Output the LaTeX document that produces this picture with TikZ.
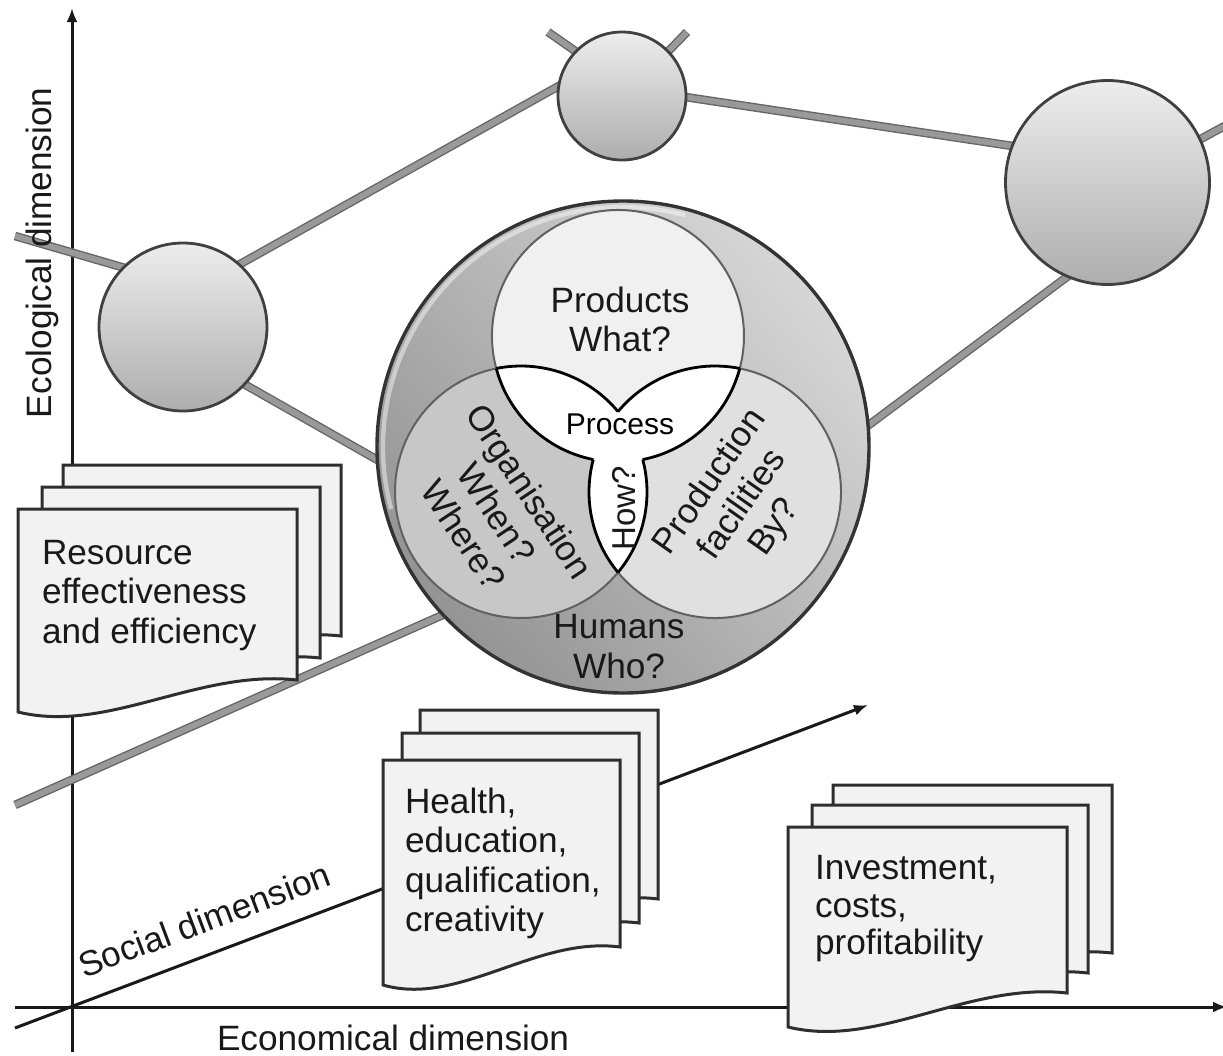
\documentclass[tikz,border=0pt]{standalone}
\usepackage{fontspec}
\setmainfont{Liberation Sans}
\usetikzlibrary{arrows.meta,backgrounds}
\newcommand{\docsheet}[4]{%
  \filldraw[sheet,shift={(#1)}] (0,0) -- (#2,0) -- (#2,#3)
    .. controls ({0.645*#2},{#3-11}) and ({0.32*#2},{#4+22}) .. (0,#4) -- cycle;}
\begin{document}
\begin{tikzpicture}[x=0.5pt,y=-0.5pt,
  every node/.style={inner sep=0pt, outer sep=0pt},
  txt/.style={font=\fontsize{17.6}{19.75}\selectfont, text=black!90},
  axisline/.style={draw=black!90, line width=1.5pt},
  arrowtip/.style={-{Latex[length=7pt,width=5.5pt]}},
  link/.style={draw=black!60, double=black!40, double distance=2.9pt, line width=0.7pt},
  into/.style={shorten <=-3pt, shorten >=-3pt},
  intoend/.style={shorten >=-3pt},
  intostart/.style={shorten <=-3pt},
  sphere/.style={circle, draw=black!75, line width=1.4pt, top color=black!7, bottom color=black!32},
  hub/.style={circle, draw=black!80, line width=1.7pt, top color=black!16, bottom color=black!42, shading angle=-50, minimum size=246pt},
  sheet/.style={fill=black!5, draw=black!82, line width=1.5pt},
  innerline/.style={draw=black!62, line width=1pt},
  boundary/.style={draw=black, line width=1.4pt},
]
\useasboundingbox (0,0) rectangle (1223,1056);

% coordinates of free ends
\coordinate (ytop) at (72,8);
\coordinate (ybot) at (72,1052);
\coordinate (xl) at (15,1007);
\coordinate (xr) at (1227,1007);
\coordinate (sl) at (15,1028);
\coordinate (sr) at (868,705);
\coordinate (e1) at (15,236);
\coordinate (e2) at (1232,122);
\coordinate (e3) at (15,805);
\coordinate (a1) at (548,32);
\coordinate (a2) at (687,32);

% spheres and hub
\node[sphere, minimum size=84pt] (s1) at (183,327) {};
\node[sphere, minimum size=64pt] (s2) at (622,96) {};
\node[sphere, minimum size=102pt] (s3) at (1107.5,182.5) {};
\node[hub] (c0) at (623,447) {};
\draw[white, opacity=0.45, line width=2.2pt] (c0.center) ++(165:240) arc[start angle=165, end angle=285, radius=240];

% inner circles
\coordinate (A) at (618,336);
\coordinate (B) at (521,492);
\coordinate (C) at (715,492);
\fill[black!22] (B) circle[radius=126];
\fill[black!12] (C) circle[radius=126];
\fill[black!6] (A) circle[radius=126];
\begin{scope}
  \clip (A) circle[radius=126];
  \fill[white] (B) circle[radius=126];
  \fill[white] (C) circle[radius=126];
\end{scope}
\begin{scope}
  \clip (B) circle[radius=126];
  \fill[white] (C) circle[radius=126];
\end{scope}
% grey outer arcs
\draw[innerline] (A) ++(165.05:126) arc[start angle=165.05, end angle=374.95, radius=126];
\draw[innerline] (B) ++(39.65:126) arc[start angle=39.65, end angle=258.7, radius=126];
\draw[innerline] (C) ++(281.3:126) arc[start angle=281.3, end angle=500.35, radius=126];
% black boundary of the white region
\draw[boundary] (A) ++(14.95:126) arc[start angle=14.95, end angle=78.7, radius=126];
\draw[boundary] (A) ++(101.3:126) arc[start angle=101.3, end angle=165.05, radius=126];
\draw[boundary] (B) ++(-101.3:126) arc[start angle=-101.3, end angle=-39.65, radius=126];
\draw[boundary] (B) ++(-14.95:126) arc[start angle=-14.95, end angle=39.65, radius=126];
\draw[boundary] (C) ++(219.65:126) arc[start angle=219.65, end angle=281.3, radius=126];
\draw[boundary] (C) ++(140.35:126) arc[start angle=140.35, end angle=194.95, radius=126];

% texts in the hub
\node[txt, align=center, anchor=north] (tprod) at (620,286.5) {Products\\What?};
\node[txt, align=center, anchor=north] (thum) at (619,614.5) {Humans\\Who?};
\node[txt, align=center, rotate=-56.5] (torg) at (497,513) {Organisation\\When?\\Where?};
\node[txt, align=center, rotate=55] (tfac) at (743,505) {Production\\facilities\\By?};
\node[font=\fontsize{15}{17}\selectfont, text=black] (tproc) at (620,424) {Process};
\node[font=\fontsize{16.5}{18}\selectfont, text=black!90, rotate=90] (thow) at (624,508) {How?};

% axis labels
\node[txt, rotate=90, anchor=base west] (teco) at (52,418) {Ecological dimension};
\node[txt, anchor=base west] (tecon) at (217,1050) {Economical dimension};
\node[txt, rotate=20.5, anchor=base west] (tsoc) at (84,978) {Social dimension};

% document stacks
\docsheet{63,465}{278}{171}{203}
\docsheet{42,487}{278}{171}{203}
\docsheet{18,509}{279}{171}{203}
\node[txt, align=left, anchor=north west] (tres) at (42,540) {Resource\\effectiveness\\and efficiency};

\docsheet{420,710}{238}{189}{225}
\docsheet{402,733}{237}{190}{225}
\docsheet{383,760}{237}{187}{225}
\node[txt, align=left, anchor=north west] (thea) at (405,787.5) {Health,\\education,\\qualification,\\creativity};

\docsheet{833,785}{279}{168}{200}
\docsheet{812,805}{276}{168}{200}
\docsheet{788,827}{279}{166}{200}
\node[txt, align=left, anchor=north west, font=\fontsize{17.6}{18.9}\selectfont] (tinv) at (815,855) {Investment,\\costs,\\profitability};

% lines behind everything
\begin{pgfonlayer}{background}
  \fill[white] (0,0) rectangle (1223,1056);
  \draw[axisline, arrowtip] (ybot) -- (ytop);
  \draw[axisline, arrowtip] (xl) -- (xr);
  \draw[axisline, arrowtip] (sl) -- (sr);
  \draw[link, intoend] (e1) -- (s1.135);
  \draw[link, into] (s1.48) -- (s2.171);
  \draw[link, into] (s2.-1) -- (s3.159);
  \draw[link, intostart] (s3.25) -- (e2);
  \draw[link, into] (s1.-43) -- (c0.183);
  \draw[link, into] (s3.247) -- (c0.5);
  \draw[link, intostart] (c0.223) -- (e3);
  \draw[link, intostart] (s2.136) -- (a1);
  \draw[link, intostart] (s2.44) -- (a2);
\end{pgfonlayer}
\end{tikzpicture}
\end{document}
